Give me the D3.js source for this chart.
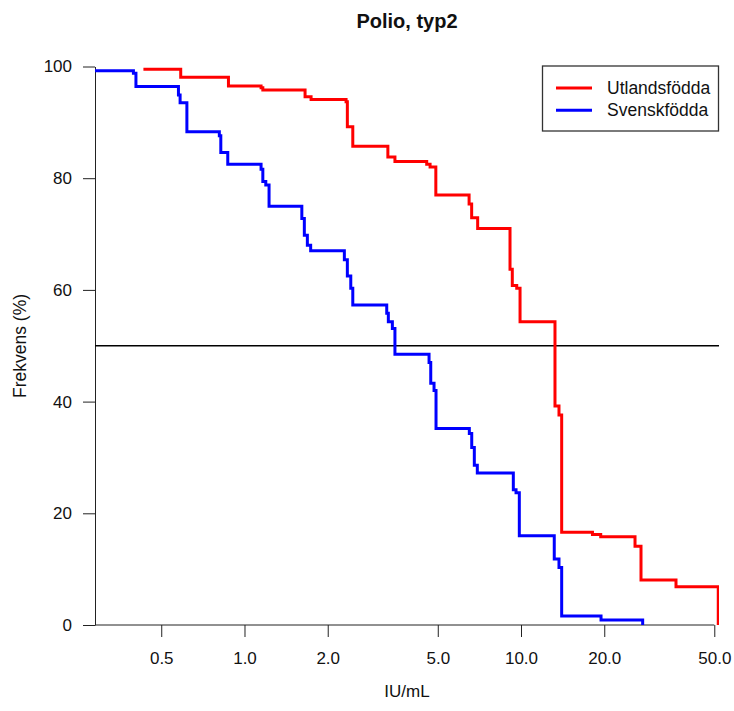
<!DOCTYPE html>
<html>
<head>
<meta charset="utf-8">
<script src="https://cdn.jsdelivr.net/npm/d3@7"></script>
<style>
  body { margin: 0; background: #fff; }
  svg { font-family: "Liberation Sans", Arial, sans-serif; }
</style>
</head>
<body>
<div id="mount"></div>
<script>
// IU/mL thresholds and percent remaining (reverse cumulative steps)
var utlandsX = [0.431, 0.588, 0.875, 1.148, 1.165, 1.656, 1.741, 2.330, 2.355, 2.464,
  3.30, 3.50, 4.56, 4.69, 4.92, 6.49, 6.63, 6.97, 9.125, 9.30, 9.65, 9.92,
  13.27, 13.72, 14.03, 18.13, 19.42, 25.84, 27.16, 36.35, 51.68];
var utlandsY = [99.5, 98.07, 96.5, 96.2, 95.8, 94.6, 94.1, 93.7, 89.2, 85.7,
  83.8, 83.0, 82.5, 82.0, 77.0, 75.4, 72.9, 71.0, 63.7, 60.8, 60.3, 54.3,
  39.2, 37.6, 16.6, 16.2, 15.8, 14.1, 8.06, 6.86, 0];

var svenskX = [0.28, 0.3966, 0.405, 0.577, 0.585, 0.619, 0.811, 0.821, 0.870, 1.148,
  1.165, 1.194, 1.227, 1.612, 1.646, 1.688, 1.735, 2.297, 2.355, 2.423, 2.464,
  3.269, 3.313, 3.426, 3.50, 4.65, 4.716, 4.847, 4.928, 6.503, 6.634, 6.779,
  6.950, 9.38, 9.594, 9.86, 13.19, 13.72, 14.03, 19.47, 27.54];
var svenskY = [99.25, 98.8, 96.4, 94.9, 93.5, 88.3, 87.6, 84.6, 82.5, 81.6,
  79.4, 78.8, 75.0, 72.8, 69.8, 68.0, 67.0, 65.4, 62.5, 60.3, 57.3,
  55.8, 54.3, 53.1, 48.5, 47.0, 43.3, 42.0, 35.2, 34.3, 31.8, 28.6,
  27.2, 24.2, 23.7, 16.0, 11.8, 10.3, 1.6, 0.9, 0];

var xTicks = [0.5, 1, 2, 5, 10, 20, 50];
var yTicks = [0, 20, 40, 60, 80, 100];
var seriesNames = ['Utlandsfödda', 'Svenskfödda'];
var seriesColors = ['#ff0000', '#0000ff'];

var width = 734;
var height = 711;
var plotLeft = 95, plotRight = 719, plotTop = 66.5, plotBottom = 625;

var x = d3.scaleLog().domain([0.288, 52]).range([plotLeft, plotRight]);
var y = d3.scaleLinear().domain([0, 100]).range([plotBottom, plotTop]);

var $svg = d3.select('#mount')
  .append('svg')
  .attr('width', width)
  .attr('height', height);

$svg.append('defs').append('clipPath')
  .attr('id', 'plot-clip')
  .append('rect')
  .attr('x', plotLeft)
  .attr('y', 0)
  .attr('width', plotRight - plotLeft)
  .attr('height', plotBottom + 5);

// title
$svg.append('text')
  .attr('x', (plotLeft + plotRight) / 2)
  .attr('y', 28)
  .attr('text-anchor', 'middle')
  .attr('font-size', 20)
  .attr('font-weight', 'bold')
  .attr('fill', '#111')
  .text('Polio, typ2');

// x axis
var xAxis = d3.axisBottom(x)
  .tickValues(xTicks)
  .tickFormat(d3.format('.1f'))
  .tickSize(12)
  .tickPadding(15)
  .tickSizeOuter(0);

var $xAxis = $svg.append('g')
  .attr('transform', 'translate(0,' + plotBottom + ')')
  .call(xAxis);
$xAxis.select('.domain').remove();
$xAxis.append('line')
  .attr('x1', plotLeft).attr('x2', x(50))
  .attr('stroke', '#222');
$xAxis.selectAll('.tick line').attr('stroke', '#222');
$xAxis.selectAll('.tick text')
  .attr('font-size', 17)
  .attr('fill', '#111')
  .attr('font-family', '"Liberation Sans", Arial, sans-serif');

// y axis
var yAxis = d3.axisLeft(y)
  .tickValues(yTicks)
  .tickSize(12)
  .tickPadding(11)
  .tickSizeOuter(0);

var $yAxis = $svg.append('g')
  .attr('transform', 'translate(' + plotLeft + ',0)')
  .call(yAxis);
$yAxis.select('.domain').attr('stroke', '#222');
$yAxis.selectAll('.tick line').attr('stroke', '#222');
$yAxis.selectAll('.tick text')
  .attr('font-size', 17)
  .attr('fill', '#111')
  .attr('font-family', '"Liberation Sans", Arial, sans-serif');

// axis titles
$svg.append('text')
  .attr('x', (plotLeft + plotRight) / 2)
  .attr('y', 697)
  .attr('text-anchor', 'middle')
  .attr('font-size', 17)
  .attr('fill', '#111')
  .text('IU/mL');

$svg.append('text')
  .attr('transform', 'translate(26,' + 346 + ') rotate(-90)')
  .attr('text-anchor', 'middle')
  .attr('font-size', 17.5)
  .attr('fill', '#111')
  .text('Frekvens (%)');

// 50% reference line
$svg.append('line')
  .attr('x1', plotLeft).attr('x2', plotRight)
  .attr('y1', y(50)).attr('y2', y(50))
  .attr('stroke', '#000')
  .attr('stroke-width', 1.3);

// step lines
var line = d3.line()
  .x(function (d) { return x(d[0]); })
  .y(function (d) { return y(d[1]); })
  .curve(d3.curveStepAfter);

var series = [d3.zip(utlandsX, utlandsY), d3.zip(svenskX, svenskY)];

$svg.append('g')
  .attr('clip-path', 'url(#plot-clip)')
  .selectAll('path')
  .data(series)
  .enter()
  .append('path')
  .attr('d', line)
  .attr('fill', 'none')
  .attr('stroke', function (d, i) { return seriesColors[i]; })
  .attr('stroke-width', 3);

// legend
var $legend = $svg.append('g');
$legend.append('rect')
  .attr('x', 542.5).attr('y', 66)
  .attr('width', 176).attr('height', 65)
  .attr('fill', '#fff')
  .attr('stroke', '#333')
  .attr('stroke-width', 1.3);

var $items = $legend.selectAll('g.item')
  .data(seriesNames)
  .enter()
  .append('g')
  .attr('class', 'item')
  .attr('transform', function (d, i) { return 'translate(0,' + (88 + i * 22.3) + ')'; });

$items.append('line')
  .attr('x1', 556).attr('x2', 592)
  .attr('stroke', function (d, i) { return seriesColors[i]; })
  .attr('stroke-width', 3);

$items.append('text')
  .attr('x', 607)
  .attr('y', 6)
  .attr('font-size', 17.5)
  .attr('fill', '#111')
  .text(function (d) { return d; });
</script>
</body>
</html>
